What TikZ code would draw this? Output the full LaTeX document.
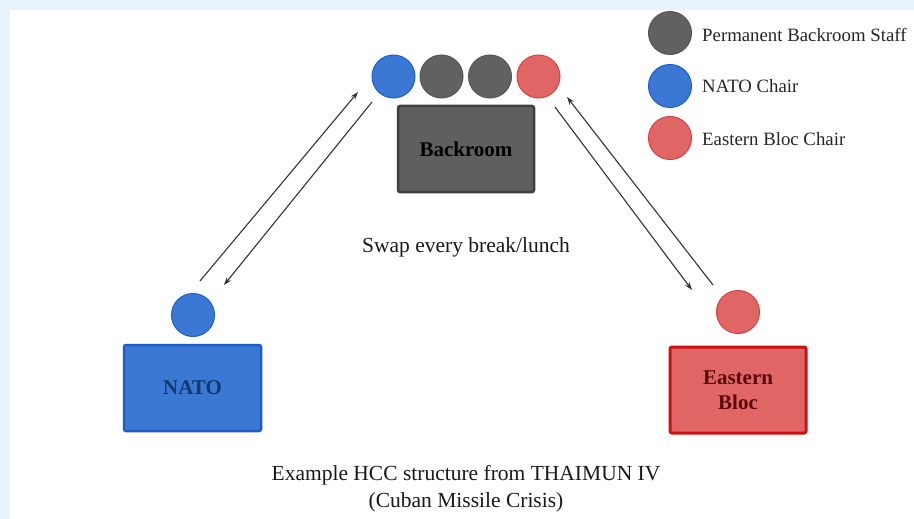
\documentclass[tikz,border=0pt]{standalone}
\usepackage{fontspec}
\setmainfont{Liberation Serif}
\usetikzlibrary{arrows.meta}
\definecolor{bgblue}{HTML}{E8F3FD}
\definecolor{staffgray}{HTML}{616161}
\definecolor{staffedge}{HTML}{555555}
\definecolor{natoblue}{HTML}{3A78D4}
\definecolor{natoedge}{HTML}{1E5CC8}
\definecolor{ebred}{HTML}{E06666}
\definecolor{ebedge}{HTML}{CC1111}
\definecolor{ebcircleedge}{HTML}{D84040}
\definecolor{roomgray}{HTML}{5F5F5F}
\definecolor{roomedge}{HTML}{3F3F3F}
\definecolor{natotext}{HTML}{0E3A6E}
\definecolor{ebtext}{HTML}{5A0A0A}
\definecolor{linegray}{HTML}{333333}
\tikzset{
  seat/.style={circle,minimum size=43pt,inner sep=0pt,line width=1pt},
  staffseat/.style={seat,fill=staffgray,draw=staffedge},
  natoseat/.style={seat,fill=natoblue,draw=natoedge},
  ebseat/.style={seat,fill=ebred,draw=ebcircleedge},
  roombox/.style={rectangle,rounded corners=2pt,inner sep=0pt,font=\fontsize{21}{25}\selectfont\bfseries,align=center},
  maintext/.style={font=\fontsize{21.5}{27}\selectfont,inner sep=0pt,align=center,text=black!90},
  legtext/.style={font=\fontsize{18.8}{23}\selectfont,inner sep=0pt,anchor=base west,text=black!85},
  swaparrow/.style={draw=linegray,line width=1.1pt,-{Stealth[length=8pt,width=5.5pt]}}
}
\begin{document}
\begin{tikzpicture}[x=1pt,y=-1pt]
\useasboundingbox (0,0) rectangle (914,519);
\fill[bgblue] (0,0) rectangle (914,519);
\fill[white] (10,10) rectangle (914,519);

% top seats
\node[natoseat] (topnato) at (393.5,76.5) {};
\node[staffseat] (staffa) at (441.5,76.5) {};
\node[staffseat] (staffb) at (490,76.5) {};
\node[ebseat] (topeb) at (538.5,76.5) {};

% backroom
\node[roombox,fill=roomgray,draw=roomedge,line width=2.5pt,minimum width=136pt,minimum height=86pt] (backroom) at (466,149) {Backroom};

% NATO
\node[natoseat] (natoseat) at (193,315) {};
\node[roombox,fill=natoblue,draw=natoedge,line width=2.5pt,minimum width=137pt,minimum height=86pt,text=natotext] (nato) at (192.5,388) {NATO};

% Eastern Bloc
\node[ebseat] (ebseat) at (738,312) {};
\node[roombox,fill=ebred,draw=ebedge,line width=3pt,minimum width=136pt,minimum height=86pt,text=ebtext] (eb) at (738,390) {Eastern\\Bloc};

% legend
\node[staffseat] (legstaff) at (670,33) {};
\node[legtext] (legstafft) at (702,41.7) {Permanent Backroom Staff};
\node[natoseat] (legnato) at (670,86) {};
\node[legtext] (legnatot) at (702,93) {NATO Chair};
\node[ebseat] (legeb) at (670,138) {};
\node[legtext] (legebt) at (702,145.6) {Eastern Bloc Chair};

% texts
\node[maintext,anchor=base] (swap) at (466,252) {Swap every break/lunch};
\node[maintext,anchor=base] (cap1) at (466,480) {Example HCC structure from THAIMUN IV};
\node[maintext,anchor=base] (cap2) at (466,507) {(Cuban Missile Crisis)};

% arrow end points
\coordinate (la1) at (200,281);
\coordinate (la2) at (358,92);
\coordinate (lb1) at (372,102);
\coordinate (lb2) at (224,285);
\coordinate (ra1) at (555,107);
\coordinate (ra2) at (692,290);
\coordinate (rb1) at (713,285);
\coordinate (rb2) at (567,97);

\draw[swaparrow] (la1) -- (la2);
\draw[swaparrow] (lb1) -- (lb2);
\draw[swaparrow] (ra1) -- (ra2);
\draw[swaparrow] (rb1) -- (rb2);
\end{tikzpicture}
\end{document}
